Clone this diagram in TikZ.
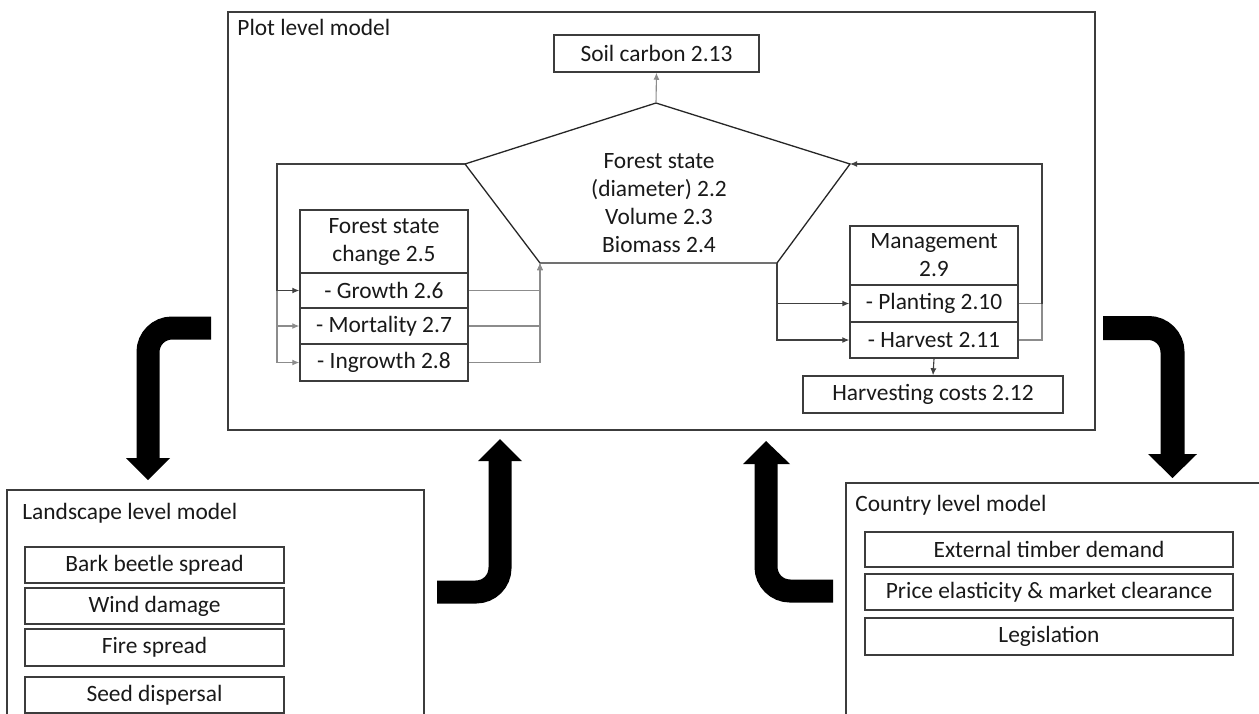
\documentclass[tikz,border=0pt]{standalone}
\usepackage{fontspec}
\setmainfont{Carlito}
\usetikzlibrary{arrows.meta,fit,calc}
\definecolor{boxc}{HTML}{3C3C3C}
\definecolor{linec}{HTML}{404040}
\definecolor{glinec}{HTML}{8C8C8C}
\newcommand{\fs}{\fontsize{11.7}{14}\selectfont}
\tikzset{
  box/.style={draw=boxc, line width=0.75pt, fill=white, inner sep=0pt, align=center, font=\fs, text=black!90},
  frame/.style={draw=boxc, line width=0.8pt, inner sep=0pt},
  title/.style={inner sep=0pt, font=\fs, anchor=west, text=black!90},
  conn/.style={line width=0.55pt, draw=linec},
  gconn/.style={line width=0.55pt, draw=glinec},
  arr/.style={-{Latex[length=3.5pt,width=3pt]}},
  big/.style={line width=11.5pt, draw=black, rounded corners=12pt},
  pent/.style={line width=0.65pt, draw=black!85}
}
\begin{document}
\begin{tikzpicture}[x=0.5pt,y=-0.5pt]
\useasboundingbox (0,0) rectangle (1259,713);
\clip (0,0) rectangle (1259,713);
\fill[white] (0,0) rectangle (1259,713);

% ---------- plot level frame ----------
\node[frame, fit={(228,12) (1095,430)}] (plot) {};
\node[title] (plottitle) at (237,27) {Plot level model};
\node[box, minimum width=102.5pt, minimum height=18.5pt] (soil) at (656.5,53.5) {Soil carbon 2.13};

% pentagon
\coordinate (A) at (656,103);
\coordinate (L) at (465,164);
\coordinate (R) at (850,164);
\coordinate (BL) at (540,263);
\coordinate (BR) at (777,263);
\draw[pent] (A) -- (R) -- (BR) -- (BL) -- (L) -- cycle;
\node[align=center, font=\fs, inner sep=0pt, text=black!90] (fstate) at (659,203) {Forest state\\(diameter) 2.2\\Volume 2.3\\Biomass 2.4};

% forest state change
\node[box, minimum width=84pt, minimum height=31.5pt] (fsc) at (384,241.5) {Forest state\\change 2.5};
\node[box, minimum width=84pt, minimum height=17.5pt] (growth) at (384,290.5) {- Growth 2.6};
\node[box, minimum width=84pt, minimum height=18pt] (mort) at (384,326) {- Mortality 2.7};
\node[box, minimum width=84pt, minimum height=18.5pt] (ingr) at (384,362.5) {- Ingrowth 2.8};

% management
\node[box, minimum width=84pt, minimum height=29.5pt] (mgmt) at (934,255.5) {Management\\2.9};
\node[box, minimum width=84pt, minimum height=18.5pt] (plant) at (934,303.5) {- Planting 2.10};
\node[box, minimum width=84pt, minimum height=18pt] (harv) at (934,340) {- Harvest 2.11};
\node[box, minimum width=130pt, minimum height=18.5pt] (costs) at (933,394.5) {Harvesting costs 2.12};

% connectors, left
\coordinate (lx) at (277,164);
\draw[gconn,arr] (lx |- growth.west) |- (mort.west);
\draw[gconn,arr] (lx |- growth.west) |- (ingr.west);
\draw[conn,arr] (L) -- (lx) |- (growth.west);
\draw[gconn,arr] (growth.east) -| (BL);
\draw[gconn,arr] (mort.east) -| (BL);
\draw[gconn,arr] (ingr.east) -| (BL);

% connectors, right
\draw[conn,arr] (BR) |- (plant.west);
\draw[conn,arr] (BR) |- (harv.west);
\coordinate (rx) at (1042,164);
\draw[gconn] (plant.east) -| (rx);
\draw[gconn] (harv.east) -| (rx);
\draw[conn,arr] (rx |- plant.east) -- (rx) -- (R);
\draw[conn,arr] (harv.south) -- (costs.north);
\draw[gconn,arr] (A) -- (soil.south);

% ---------- landscape level ----------
\node[frame, fit={(7,490) (424,760)}] (land) {};
\node[title] (landtitle) at (22,513) {Landscape level model};
\node[box, minimum width=129.5pt, minimum height=18pt] (bark) at (154.5,565) {Bark beetle spread};
\node[box, minimum width=129.5pt, minimum height=18pt] (wind) at (154.5,606) {Wind damage};
\node[box, minimum width=129.5pt, minimum height=18.5pt] (fire) at (154.5,647.5) {Fire spread};
\node[box, minimum width=129.5pt, minimum height=18pt] (seed) at (154.5,695) {Seed dispersal};

% ---------- country level ----------
\node[frame, fit={(846,483) (1300,760)}] (country) {};
\node[title] (countrytitle) at (855,505) {Country level model};
\node[box, minimum width=184pt, minimum height=17.5pt] (ext) at (1049,549.5) {External timber demand};
\node[box, minimum width=184pt, minimum height=18pt] (price) at (1049,592) {Price elasticity \& market clearance};
\node[box, minimum width=184pt, minimum height=18.5pt] (legis) at (1049,636.5) {Legislation};

% ---------- big arrows ----------
\draw[big] (211,328) -- (148,328) -- (148,459);
\fill (126,458) -- (170,458) -- (148,480) -- cycle;

\draw[big, line width=12pt] (1103,328) -- (1172.5,328) -- (1172.5,455);
\fill (1148,454) -- (1197,454) -- (1172.5,478) -- cycle;

\draw[big] (437,592) -- (500,592) -- (500,460);
\fill (478,461) -- (522,461) -- (500,439) -- cycle;

\draw[big] (833,591) -- (766,591) -- (766,463);
\fill (743,464) -- (790,464) -- (766,441) -- cycle;
\end{tikzpicture}
\end{document}
